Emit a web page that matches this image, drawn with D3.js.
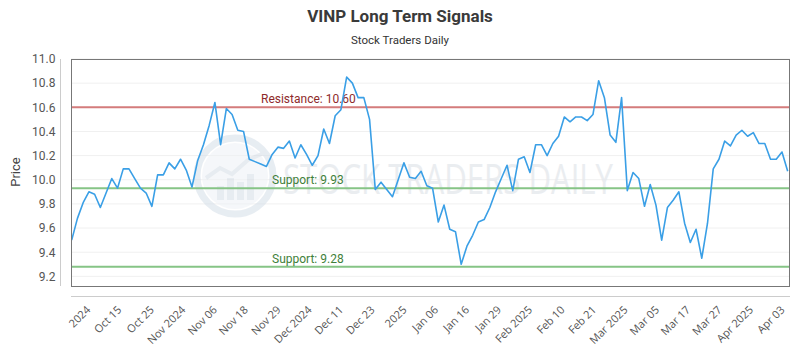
<!DOCTYPE html>
<html>
<head>
<meta charset="utf-8">
<script src="https://cdn.jsdelivr.net/npm/d3@7"></script>
<style>
  html, body { margin: 0; padding: 0; background: #fff; }
  svg { display: block; }
</style>
</head>
<body>
<svg id="chart" width="800" height="350"></svg>
<script>
// ---- data ----
const title = "VINP Long Term Signals";
const subtitle = "Stock Traders Daily";
const prices = [
  9.50, 9.68, 9.81, 9.90, 9.88, 9.77, 9.89, 10.01, 9.93, 10.09,
  10.09, 10.01, 9.93, 9.89, 9.78, 10.04, 10.04, 10.14, 10.09, 10.17,
  10.08, 9.94, 10.16, 10.29, 10.45, 10.64, 10.29, 10.59, 10.54, 10.41,
  10.40, 10.17, 10.15, 10.13, 10.11, 10.21, 10.27, 10.26, 10.32, 10.18,
  10.29, 10.21, 10.12, 10.20, 10.42, 10.30, 10.53, 10.58, 10.85, 10.80,
  10.68, 10.68, 10.50, 9.92, 9.98, 9.92, 9.86, 10.00, 10.14, 10.02,
  10.01, 10.07, 9.95, 9.93, 9.65, 9.79, 9.59, 9.57, 9.30, 9.45,
  9.54, 9.65, 9.67, 9.77, 9.90, 10.01, 10.12, 9.91, 10.17, 10.19,
  10.06, 10.29, 10.29, 10.20, 10.30, 10.36, 10.52, 10.48, 10.52, 10.52,
  10.49, 10.54, 10.82, 10.68, 10.37, 10.31, 10.68, 9.91, 10.06, 10.01,
  9.78, 9.96, 9.79, 9.50, 9.77, 9.83, 9.90, 9.64, 9.48, 9.59,
  9.35, 9.64, 10.09, 10.17, 10.32, 10.28, 10.37, 10.41, 10.36, 10.39,
  10.30, 10.30, 10.17, 10.17, 10.23, 10.07
];
const xTickLabels = ["2024","Oct 15","Oct 25","Nov 2024","Nov 06","Nov 18","Nov 29","Dec 2024","Dec 11","Dec 23","2025","Jan 06","Jan 16","Jan 29","Feb 2025","Feb 10","Feb 21","Mar 2025","Mar 05","Mar 17","Mar 27","Apr 2025","Apr 03"];
const xTickIndex = [2.8, 8.2, 13.9, 19.4, 24.9, 30.3, 36.0, 41.4, 46.9, 52.4, 58.0, 63.5, 68.9, 74.5, 79.9, 85.6, 91.1, 96.6, 102.1, 107.5, 113.0, 118.5, 124.0];
const yTicks = [9.2, 9.4, 9.6, 9.8, 10.0, 10.2, 10.4, 10.6, 10.8, 11.0];
const levels = [
  {label: "Resistance: 10.60", value: 10.60, kind: "res"},
  {label: "Support: 9.93", value: 9.93, kind: "sup"},
  {label: "Support: 9.28", value: 9.28, kind: "sup"}
];

// ---- layout ----
const svg = d3.select("#chart");
const plot = {left: 71, right: 790, top: 59, bottom: 286};

const x = d3.scaleLinear().domain([0, prices.length - 1]).range([71.7, 787.7]);
const y = d3.scaleLinear().domain([9.12, 11.0]).range([plot.bottom, plot.top]);

// title
svg.append("text").attr("x", 400).attr("y", 22).attr("text-anchor", "middle")
  .attr("font-family", "Roboto, 'Noto Sans', sans-serif").attr("font-weight", "bold")
  .attr("font-size", 17).attr("fill", "#3a3a3a").text(title);
svg.append("text").attr("x", 400).attr("y", 44).attr("text-anchor", "middle")
  .attr("font-family", "Roboto, 'Noto Sans', sans-serif")
  .attr("font-size", 11.5).attr("fill", "#333").text(subtitle);

// gridlines
svg.append("g").selectAll("line").data(yTicks).join("line")
  .attr("x1", plot.left).attr("x2", plot.right)
  .attr("y1", d => y(d)).attr("y2", d => y(d))
  .attr("stroke", "#f0f0f0").attr("stroke-width", 1);

// watermark
const wm = svg.append("g").attr("opacity", 0.55);
wm.append("circle").attr("cx", 235).attr("cy", 176).attr("r", 38)
  .attr("fill", "none").attr("stroke", "#d5dfe9").attr("stroke-width", 7);
wm.append("circle").attr("cx", 235).attr("cy", 176).attr("r", 33)
  .attr("fill", "#eef2f6");
[[-18, 14], [-8, 22], [2, 18], [12, 26]].forEach(([dx, h]) => {
  wm.append("rect").attr("x", 235 + dx).attr("y", 200 - h).attr("width", 7).attr("height", h)
    .attr("fill", "#d5dde6");
});
wm.append("polyline").attr("points", "206,178 220,168 232,174 248,160 266,152")
  .attr("fill", "none").attr("stroke", "#d5dde6").attr("stroke-width", 4);
svg.append("text").attr("x", 283).attr("y", 194)
  .attr("font-family", "'Open Sans', sans-serif").attr("font-size", 42)
  .attr("textLength", 330).attr("lengthAdjust", "spacingAndGlyphs")
  .attr("fill", "#e6e9ed").attr("opacity", 0.8).text("STOCK TRADERS DAILY");

// level lines
const lv = svg.append("g");
lv.selectAll("line").data(levels).join("line")
  .attr("x1", plot.left).attr("x2", plot.right)
  .attr("y1", d => y(d.value)).attr("y2", d => y(d.value))
  .attr("stroke", d => d.kind === "res" ? "#d47c7c" : "#86c486")
  .attr("stroke-width", 2);
lv.selectAll("text").data(levels).join("text")
  .attr("x", d => d.kind === "res" ? 261 : 272)
  .attr("y", d => y(d.value) - 4)
  .attr("font-family", "Roboto, 'Noto Sans', sans-serif").attr("font-size", 12)
  .attr("fill", d => d.kind === "res" ? "#8e2a2a" : "#3f7f3a")
  .text(d => d.label);

// price line
const line = d3.line().x((d, i) => x(i)).y(d => y(d));
svg.append("path").datum(prices).attr("d", line)
  .attr("fill", "none").attr("stroke", "#3a9fe6").attr("stroke-width", 1.6)
  .attr("stroke-linejoin", "round");

// plot frame
svg.append("rect").attr("x", plot.left + 0.5).attr("y", plot.top + 0.5)
  .attr("width", plot.right - plot.left - 1).attr("height", plot.bottom - plot.top)
  .attr("fill", "none").attr("stroke", "#777").attr("stroke-width", 1);

// y axis
const yAxisG = svg.append("g").attr("transform", "translate(60.5,0)")
  .call(d3.axisLeft(y).tickValues(yTicks).tickFormat(d3.format(".1f")).tickSize(0).tickPadding(5));
yAxisG.select(".domain").attr("stroke", "#ccc").attr("d", `M0,${plot.top}V${plot.bottom}`);
yAxisG.selectAll("text").attr("font-family", "Roboto, 'Noto Sans', sans-serif")
  .attr("font-size", 12).attr("fill", "#555");

svg.append("text").attr("transform", "translate(20,172) rotate(-90)")
  .attr("text-anchor", "middle").attr("font-family", "Roboto, 'Noto Sans', sans-serif")
  .attr("font-size", 13).attr("fill", "#444").text("Price");

// x axis
const xAxisG = svg.append("g").attr("transform", "translate(0,296.5)")
  .call(d3.axisBottom(x).tickValues(xTickIndex).tickFormat((d, i) => xTickLabels[i]).tickSize(0).tickPadding(0));
xAxisG.select(".domain").attr("stroke", "#ccc").attr("d", `M${plot.left},0H${plot.right}`);
xAxisG.selectAll("text")
  .attr("font-family", "'Open Sans', sans-serif").attr("font-size", 11).attr("fill", "#555")
  .attr("text-anchor", "end").attr("dy", null).attr("y", 0)
  .attr("transform", "translate(3,14) rotate(-45)");
</script>
</body>
</html>
